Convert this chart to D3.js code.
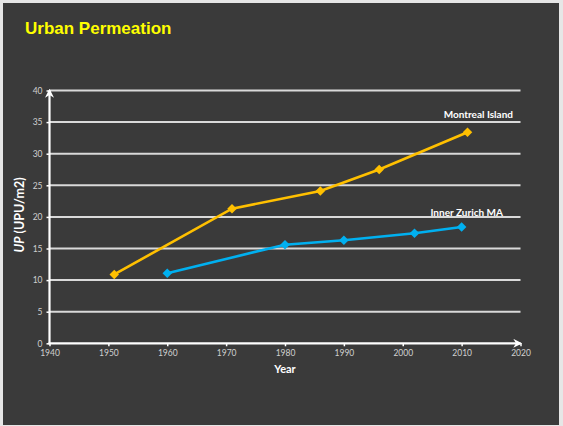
<!DOCTYPE html>
<html>
<head>
<meta charset="utf-8">
<script src="https://cdn.jsdelivr.net/npm/d3@7"></script>
<style>
  html, body { margin: 0; padding: 0; background: #e6e6e6; }
  svg { display: block; }
</style>
</head>
<body>
<svg id="chart" width="563" height="426"></svg>
<script>
// Urban permeation (UPU/m2) over time
const montrealYears = [1951, 1971, 1986, 1996, 2011];
const montrealValues = [10.9, 21.3, 24.1, 27.5, 33.4];
const zurichYears = [1960, 1980, 1990, 2002, 2010];
const zurichValues = [11.1, 15.6, 16.3, 17.4, 18.4];
const xTicks = [1940, 1950, 1960, 1970, 1980, 1990, 2000, 2010, 2020];
const yTicks = [0, 5, 10, 15, 20, 25, 30, 35, 40];
const seriesNames = ["Montreal Island", "Inner Zurich MA"];

const svg = d3.select("#chart");
const W = 563, H = 426;

// panel background with light frame
svg.append("rect").attr("width", W).attr("height", H).attr("fill", "#e6e6e6");
svg.append("rect").attr("x", 3).attr("y", 3).attr("width", 556).attr("height", 422).attr("fill", "#3a3a3a");

svg.append("text")
  .attr("x", 25).attr("y", 34)
  .attr("fill", "#ffff00")
  .attr("font-family", "Liberation Sans, Arial, sans-serif")
  .attr("font-weight", "bold")
  .attr("font-size", 17)
  .text("Urban Permeation");

const x = d3.scaleLinear().domain([1940, 2020]).range([49.5, 520.5]);
const y = d3.scaleLinear().domain([0, 40]).range([343.3, 90.5]);

// arrowhead pointing along the line direction
const defs = svg.append("defs");
defs.append("marker").attr("id", "arrow")
  .attr("viewBox", "0 0 10 10").attr("refX", 8).attr("refY", 5)
  .attr("markerWidth", 9).attr("markerHeight", 9).attr("markerUnits", "userSpaceOnUse")
  .attr("orient", "auto")
  .append("path").attr("d", "M0,0 L10,5 L0,10 L3,5 Z").attr("fill", "#ffffff");

// horizontal gridlines
svg.append("g").selectAll("line").data(yTicks.filter(d => d > 0)).join("line")
  .attr("x1", x(1940)).attr("x2", x(2020))
  .attr("y1", d => y(d)).attr("y2", d => y(d))
  .attr("stroke", "#d9d9d9").attr("stroke-width", 2);

const tickFont = "Lato, Carlito, Liberation Sans, Arial, sans-serif";

// y axis
const yAxis = svg.append("g").attr("transform", `translate(${x(1940)},0)`)
  .call(d3.axisLeft(y).tickValues(yTicks).tickSize(3).tickPadding(4).tickFormat(d3.format("d")));
yAxis.select(".domain").remove();
yAxis.selectAll(".tick line").attr("stroke", "#ffffff").attr("stroke-width", 1.5);
yAxis.selectAll(".tick text").attr("fill", "#d0d0d0").attr("font-size", 8.5).attr("font-family", tickFont);

// x axis
const xAxis = svg.append("g").attr("transform", `translate(0,${y(0)})`)
  .call(d3.axisBottom(x).tickValues(xTicks).tickSize(3).tickPadding(4).tickFormat(d3.format("d")));
xAxis.select(".domain").remove();
xAxis.selectAll(".tick line").attr("stroke", "#ffffff").attr("stroke-width", 1.5);
xAxis.selectAll(".tick text").attr("fill", "#d0d0d0").attr("font-size", 8.5).attr("font-family", tickFont);

// axis lines with arrowheads
svg.append("line")
  .attr("x1", x(1940)).attr("x2", x(1940))
  .attr("y1", y(0) + 1).attr("y2", y(40))
  .attr("stroke", "#ffffff").attr("stroke-width", 2.2)
  .attr("marker-end", "url(#arrow)");
svg.append("line")
  .attr("x1", x(1940) - 1).attr("x2", x(2020))
  .attr("y1", y(0)).attr("y2", y(0))
  .attr("stroke", "#ffffff").attr("stroke-width", 2.2)
  .attr("marker-end", "url(#arrow)");

// axis titles
svg.append("text")
  .attr("transform", `translate(24,${(y(0) + y(40)) / 2 - 2}) rotate(-90)`)
  .attr("text-anchor", "middle")
  .attr("fill", "#ffffff")
  .attr("font-family", tickFont)
  .attr("font-weight", "bold")
  .attr("font-size", 12.5)
  .call(t => {
    t.append("tspan").attr("font-style", "italic").text("UP");
    t.append("tspan").text(" (UPU/m2)");
  });

svg.append("text")
  .attr("x", 285).attr("y", 373)
  .attr("text-anchor", "middle")
  .attr("fill", "#ffffff")
  .attr("font-family", tickFont)
  .attr("font-weight", "bold")
  .attr("font-size", 11)
  .text("Year");

// series
const series = [
  { name: seriesNames[0], years: montrealYears, values: montrealValues, color: "#ffc000" },
  { name: seriesNames[1], years: zurichYears, values: zurichValues, color: "#00b0f0" }
];
const line = d3.line().x(d => x(d[0])).y(d => y(d[1]));
const diamond = d3.symbol().type(d3.symbolDiamond2).size(58);

series.forEach(s => {
  const pts = s.years.map((yr, i) => [yr, s.values[i]]);
  svg.append("path").datum(pts)
    .attr("d", line)
    .attr("fill", "none")
    .attr("stroke", s.color)
    .attr("stroke-width", 2.6);
  svg.append("g").selectAll("path").data(pts).join("path")
    .attr("transform", d => `translate(${x(d[0])},${y(d[1])})`)
    .attr("d", diamond)
    .attr("fill", s.color);
});

// series labels
svg.append("text")
  .attr("x", 513).attr("y", 117.5)
  .attr("text-anchor", "end")
  .attr("fill", "#ffffff")
  .attr("font-family", tickFont)
  .attr("font-weight", "bold")
  .attr("font-size", 10)
  .text(seriesNames[0]);
svg.append("text")
  .attr("x", 503).attr("y", 215.5)
  .attr("text-anchor", "end")
  .attr("fill", "#ffffff")
  .attr("font-family", tickFont)
  .attr("font-weight", "bold")
  .attr("font-size", 10)
  .text(seriesNames[1]);
</script>
</body>
</html>
